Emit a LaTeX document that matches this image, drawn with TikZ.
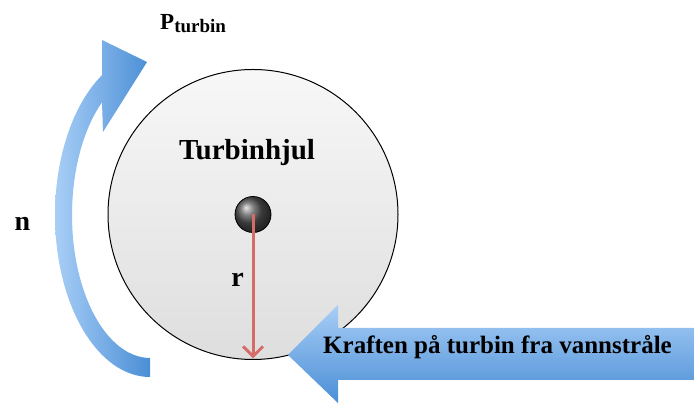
\documentclass[tikz,border=0pt]{standalone}
\usepackage{fontspec}
\setmainfont{Liberation Serif}
\usetikzlibrary{arrows.meta,shadings}
\definecolor{bluelight}{RGB}{168,206,246}
\definecolor{bluedark}{RGB}{74,142,214}
\definecolor{redarrow}{RGB}{214,108,104}
\tikzset{
  lbl/.style={inner sep=0pt, font=\bfseries},
  bluearrow/.style={draw=none},
}
\begin{document}
\begin{tikzpicture}[x=1pt,y=1pt]
\useasboundingbox (0,0) rectangle (694,403);
% wheel
\node[circle, draw=black, line width=1pt, minimum size=290pt, inner sep=0pt,
      top color=gray!6, bottom color=gray!26] (wheel) at (253,188.5) {};
% hub
\node[circle, draw=black, line width=0.8pt, minimum size=36pt, inner sep=0pt,
      ball color=gray!65!black] (hub) at (253,188.5) {};
% radius arrow
\draw[draw=redarrow, line width=3pt, -{Straight Barb[length=10pt,width=20pt,line width=3pt]}, shorten >=1.5pt]
  (hub.center) -- (wheel.south);
% labels in wheel
\node[lbl, anchor=base, font=\bfseries\fontsize{29}{34}\selectfont] (title) at (247,243) {Turbinhjul};
\node[lbl, anchor=base, font=\bfseries\fontsize{28}{34}\selectfont] (rlab) at (237.5,116) {r};
% curved rotation arrow
\shade[bluearrow, left color=bluelight, right color=bluedark]
  (150,26) arc[start angle=270, end angle=120.3, x radius=95pt, y radius=162pt]
  -- (102,363) -- (147,341) -- (103,271) -- (102,300.7)
  arc[start angle=128, end angle=270, x radius=78pt, y radius=143pt]
  -- cycle;
% force arrow
\shade[bluearrow, top color=bluelight, bottom color=bluedark]
  (694,75) -- (338,75) -- (338,98) -- (288,48) -- (338,0) -- (338,23) -- (694,23) -- cycle;
\node[lbl, anchor=base, font=\bfseries\fontsize{25}{30}\selectfont] (force) at (497.5,49)
  {Kraften på turbin fra vannstråle};
% outside labels
\node[lbl, anchor=base west] (pturb) at (160,373)
  {\fontsize{23}{28}\selectfont P\raisebox{-3pt}{\fontsize{19}{22}\selectfont turbin}};
\node[lbl, anchor=base, font=\bfseries\fontsize{28}{34}\selectfont] (nlab) at (22.5,172) {n};
\end{tikzpicture}
\end{document}
